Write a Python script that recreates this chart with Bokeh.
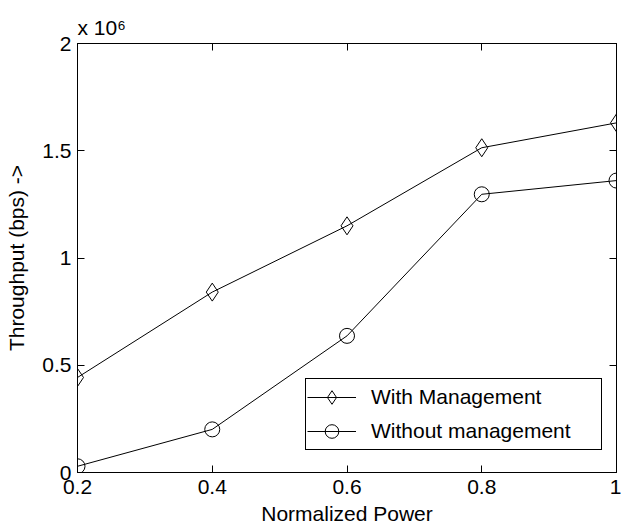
from bokeh.plotting import figure
from bokeh.models import (Range1d, LinearAxis, FixedTicker, CustomJSTickFormatter,
                          Legend, LegendItem, Title)
from bokeh.embed import file_html
from bokeh.resources import INLINE

# ---- data ----
power = [0.2, 0.4, 0.6, 0.8, 1.0]
with_management = [0.443e6, 0.841e6, 1.150e6, 1.514e6, 1.630e6]
without_management = [0.029e6, 0.201e6, 0.637e6, 1.297e6, 1.361e6]
series_names = ["With Management", "Without management"]
x_ticks = [0.2, 0.4, 0.6, 0.8, 1.0]
y_ticks = [0, 0.5e6, 1.0e6, 1.5e6, 2.0e6]
x_label = "Normalized Power"
y_label = "Throughput (bps) ->"
exp_text = "x 10\u2076"

FONT = "Liberation Sans"
FS = "21px"

p = figure(width=621, height=531,
           x_range=Range1d(0.2, 1.0), y_range=Range1d(0, 2.0e6),
           output_backend="svg", toolbar_location=None,
           min_border_left=77, min_border_right=5,
           min_border_top=43, min_border_bottom=59)
p.title = None
p.xgrid.visible = False
p.ygrid.visible = False
p.outline_line_color = "black"
p.outline_line_width = 1
p.background_fill_color = "white"
p.border_fill_color = "white"

x_fmt = CustomJSTickFormatter(code="return tick.toFixed(1).replace(/\\.0$/, '');")
y_fmt = CustomJSTickFormatter(code="return String(Math.round(tick/1e5)/10);")


def style_axis(ax, ticks, fmt, show_labels):
    ax.ticker = FixedTicker(ticks=ticks)
    ax.formatter = fmt
    ax.axis_line_color = "black"
    ax.axis_line_width = 1
    ax.major_tick_in = 7
    ax.major_tick_out = 0
    ax.major_tick_line_color = "black"
    ax.minor_tick_in = 0
    ax.minor_tick_out = 0
    ax.minor_tick_line_color = None
    ax.major_label_text_font = FONT
    ax.major_label_text_font_size = FS
    ax.major_label_text_color = "black"
    if not show_labels:
        ax.major_label_text_alpha = 0
        ax.major_label_text_font_size = "1px"
    ax.axis_label_text_font = FONT
    ax.axis_label_text_font_size = FS
    ax.axis_label_text_font_style = "normal"
    ax.axis_label_text_color = "black"


xa = p.xaxis[0]
style_axis(xa, x_ticks, x_fmt, True)
xa.axis_label = x_label
xa.major_label_standoff = 7
xa.axis_label_standoff = 5

ya = p.yaxis[0]
style_axis(ya, y_ticks, y_fmt, True)
ya.axis_label = y_label
ya.major_label_standoff = 6
ya.axis_label_standoff = 11

top = LinearAxis()
style_axis(top, x_ticks, x_fmt, False)
top.major_label_standoff = 0
p.add_layout(top, "above")

right = LinearAxis()
style_axis(right, y_ticks, y_fmt, False)
right.major_label_standoff = 0
p.add_layout(right, "right")

p.add_layout(Title(text=exp_text, text_font=FONT, text_font_size=FS,
                   text_font_style="normal", text_color="black",
                   align="left", offset=0, standoff=10), "above")

# ---- series ----
l1 = p.line(power, with_management, line_color="black", line_width=1)
s1 = p.scatter(power, with_management, marker="diamond", size=18,
               line_color="black", line_width=1, fill_color=None)
l2 = p.line(power, without_management, line_color="black", line_width=1)
s2 = p.scatter(power, without_management, marker="circle", size=15,
               line_color="black", line_width=1, fill_color=None)

legend = Legend(items=[LegendItem(label=series_names[0], renderers=[l1, s1]),
                       LegendItem(label=series_names[1], renderers=[l2, s2])],
                location=(228, 22), margin=0, padding=1, spacing=-8,
                glyph_width=49, glyph_height=34, label_height=26,
                label_width=229, label_standoff=15,
                label_text_font=FONT, label_text_font_size=FS,
                label_text_color="black",
                border_line_color="black", border_line_width=1,
                border_line_alpha=1,
                background_fill_color="white", background_fill_alpha=1)
p.add_layout(legend)

open("out.html", "w").write(file_html(p, INLINE))
